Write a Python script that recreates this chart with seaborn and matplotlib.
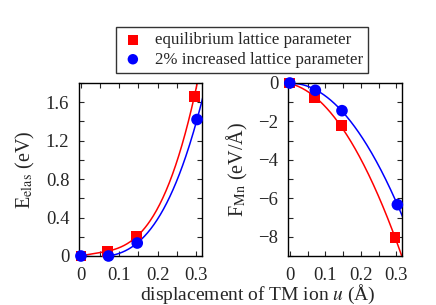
import numpy as np
import matplotlib
matplotlib.use("Agg")
import matplotlib.pyplot as plt
from matplotlib.ticker import MultipleLocator
import seaborn as sns

u_eq = [0.0, 0.07, 0.145, 0.296]
u_inc = [0.0, 0.072, 0.147, 0.303]
E_eq = [0.0, 0.05, 0.20, 1.66]
E_inc = [0.0, 0.0, 0.135, 1.42]
F_eq = [0.0, -0.78, -2.22, -8.02]
F_inc = [0.0, -0.38, -1.44, -6.33]

labels = ["equilibrium lattice parameter", "2% increased lattice parameter"]

sns.set_style("ticks")
plt.rcParams['font.family'] = ['Liberation Serif', 'DejaVu Serif']
plt.rcParams['mathtext.fontset'] = 'stix'


def fit_curve(u, y, deg):
    c = np.polyfit(u, y, deg)
    xs = np.linspace(0, 0.33, 200)
    return xs, np.polyval(c, xs)


def style_axis(ax):
    ax.tick_params(which='both', direction='in', top=True, right=True,
                   length=3.5, width=0.8, labelsize=13.5)
    ax.tick_params(axis='x', pad=8)
    ax.tick_params(axis='y', pad=7)
    for s in ax.spines.values():
        s.set_linewidth(1.0)
        s.set_color('black')
    ax.xaxis.set_minor_locator(MultipleLocator(0.05))
    ax.set_xlim(-0.005, 0.316)
    ax.set_xticks([0, 0.1, 0.2, 0.3])
    ax.set_xticklabels(["0", "0.1", "0.2", "0.3"])


fig = plt.figure(figsize=(4.36, 3.05), dpi=100)
ax1 = fig.add_axes([79 / 436, 1 - 256 / 305, 123 / 436, 173 / 305])
ax2 = fig.add_axes([288 / 436, 1 - 256 / 305, 114 / 436, 173 / 305])

xs, ys = fit_curve(u_eq, E_eq, 3)
ax1.plot(xs, ys, color='red', lw=1.1)
xs, ys = fit_curve(u_inc, E_inc, 3)
ax1.plot(xs, ys, color='blue', lw=1.1)
sns.scatterplot(x=u_eq, y=E_eq, ax=ax1, marker='s', color='red', s=60,
                edgecolor='none', zorder=3, clip_on=False, label=labels[0])
sns.scatterplot(x=u_inc, y=E_inc, ax=ax1, marker='o', color='blue', s=70,
                edgecolor='none', zorder=4, clip_on=False, label=labels[1])
style_axis(ax1)
ax1.set_ylim(0, 1.8)
ax1.yaxis.set_minor_locator(MultipleLocator(0.2))
ax1.set_yticks([0, 0.4, 0.8, 1.2, 1.6])
ax1.set_yticklabels(["0", "0.4", "0.8", "1.2", "1.6"])
ax1.set_ylabel(r"E$_{\rm elas}$ (eV)", fontsize=14.5, labelpad=6)

xs, ys = fit_curve(u_eq, F_eq, 2)
ax2.plot(xs, ys, color='red', lw=1.1)
xs, ys = fit_curve(u_inc, F_inc, 2)
ax2.plot(xs, ys, color='blue', lw=1.1)
sns.scatterplot(x=u_eq, y=F_eq, ax=ax2, marker='s', color='red', s=60,
                edgecolor='none', zorder=3, clip_on=False, legend=False)
sns.scatterplot(x=u_inc, y=F_inc, ax=ax2, marker='o', color='blue', s=70,
                edgecolor='none', zorder=4, clip_on=False, legend=False)
style_axis(ax2)
ax2.set_ylim(-9, 0)
ax2.yaxis.set_minor_locator(MultipleLocator(1))
ax2.set_yticks([0, -2, -4, -6, -8])
ax2.set_yticklabels(["0", "\u22122", "\u22124", "\u22126", "\u22128"])
ax2.set_ylabel(r"F$_{\rm Mn}$ (eV/Å)", fontsize=14.5, labelpad=6)

handles, labs = ax1.get_legend_handles_labels()
ax1.get_legend().remove()
fig.legend(handles, labs, loc='center', bbox_to_anchor=(242 / 436, 1 - 50 / 305),
           fontsize=12.2, frameon=True, fancybox=False, edgecolor='black',
           handletextpad=0.6, borderpad=0.3, labelspacing=0.2,
           handlelength=1.4, markerscale=0.9).get_frame().set_linewidth(1.0)

fig.text(258 / 436, 1 - 300 / 305, r"displacement of TM ion $u$ (Å)",
         ha='center', va='baseline', fontsize=14)

fig.savefig("out.png", dpi=100)
